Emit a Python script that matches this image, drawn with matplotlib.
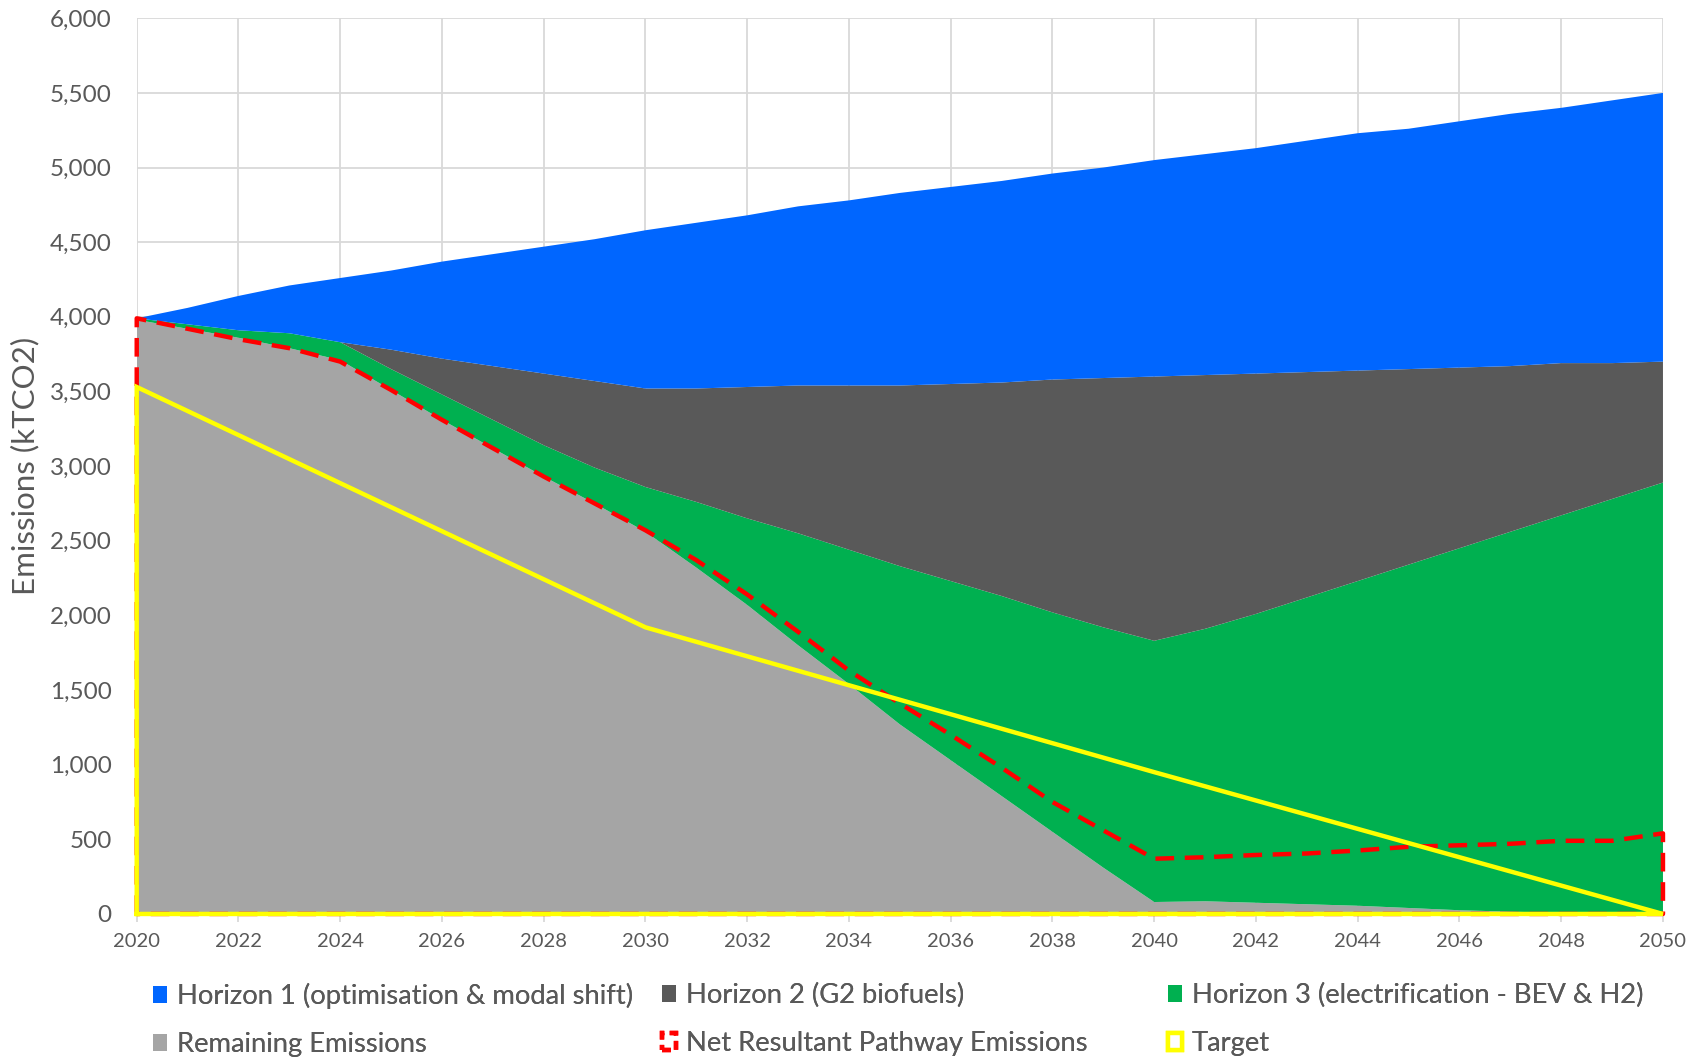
import matplotlib
matplotlib.use("Agg")
import matplotlib.pyplot as plt
from matplotlib.patches import Patch

plt.rcParams['font.family'] = ['Lato', 'DejaVu Sans']

years = list(range(2020, 2051))

# Stacked emission layers (kTCO2)
remaining = [3980, 3920, 3860, 3790, 3710, 3510, 3310, 3120, 2930, 2750, 2560,
             2320, 2070, 1800, 1540, 1270, 1030, 790, 550, 310, 80,
             85, 75, 65, 55, 40, 25, 15, 8, 4, 0]
horizon3 = [10, 30, 50, 100, 120, 140, 170, 190, 210, 240, 300,
            440, 580, 750, 900, 1060, 1200, 1340, 1470, 1610, 1750,
            1825, 1935, 2055, 2175, 2300, 2425, 2545, 2662, 2776, 2890]
horizon2 = [0, 0, 0, 0, 0, 130, 240, 360, 480, 580, 660,
            760, 880, 990, 1100, 1210, 1320, 1430, 1560, 1670, 1770,
            1700, 1610, 1510, 1410, 1310, 1210, 1110, 1020, 910, 810]
horizon1 = [0, 110, 230, 320, 430, 530, 650, 750, 850, 950, 1060,
            1110, 1150, 1200, 1240, 1290, 1320, 1350, 1380, 1410, 1450,
            1480, 1510, 1550, 1590, 1610, 1650, 1690, 1710, 1760, 1800]

# Outlined series
net_pathway = [3990, 3920, 3850, 3790, 3700, 3510, 3310, 3120, 2930, 2750, 2570,
               2370, 2140, 1890, 1630, 1410, 1200, 980, 750, 560, 370,
               380, 395, 405, 425, 450, 460, 470, 490, 490, 540]
target = [3530, 3369, 3208, 3047, 2886, 2725, 2564, 2403, 2242, 2081, 1920,
          1823, 1726, 1629, 1532, 1435, 1338, 1241, 1144, 1047, 950,
          855, 760, 665, 570, 475, 380, 285, 190, 95, 0]

labels = ["Horizon 1 (optimisation & modal shift)", "Horizon 2 (G2 biofuels)",
          "Horizon 3 (electrification - BEV & H2)", "Remaining Emissions",
          "Net Resultant Pathway Emissions", "Target"]

c_h1, c_h2, c_h3, c_rem = "#0066FF", "#595959", "#00B050", "#A5A5A5"
c_net, c_tgt = "#FF0000", "#FFFF00"
txt = "#595959"
grid = "#D9D9D9"

fig = plt.figure(figsize=(16.9, 10.62), dpi=100)
ax = fig.add_axes([0.0809, 0.1394, 0.984 - 0.0809, 0.9828 - 0.1394])

ax.stackplot(years, remaining, horizon3, horizon2, horizon1,
             colors=[c_rem, c_h3, c_h2, c_h1], linewidth=0, zorder=2)

# Net pathway and target drawn as outlined (unfilled) areas
xs = [years[0]] + years + [years[-1], years[0]]
ax.plot(xs, [0] + net_pathway + [0, 0], color=c_net, lw=3.2,
        linestyle=(0, (4.2, 2.4)), zorder=4, clip_on=False)
ax.plot(xs, [0] + target + [0, 0], color=c_tgt, lw=3.2,
        zorder=5, clip_on=False, solid_joinstyle='miter')

ax.set_xlim(2020, 2050)
ax.set_ylim(0, 6000)
ax.set_xticks(range(2020, 2051, 2))
ax.set_yticks(range(0, 6001, 500))
ax.yaxis.set_major_formatter(matplotlib.ticker.FuncFormatter(lambda v, p: f"{int(v):,}"))

ax.set_axisbelow(True)
ax.grid(True, color=grid, lw=1.3)
for s in ax.spines.values():
    s.set_visible(False)
ax.spines['bottom'].set_visible(True)
ax.spines['bottom'].set_color(grid)
ax.spines['bottom'].set_linewidth(1.3)

ax.tick_params(axis='x', direction='out', length=6, width=1.3, color=grid,
               labelcolor=txt, labelsize=14.5, pad=8)
ax.tick_params(axis='y', length=0, labelcolor=txt, labelsize=17.5, pad=18)

fig.text(25 / 1690, 1 - 466 / 1062, "Emissions (kTCO2)", rotation=90,
         ha='center', va='center', fontsize=22.5, color=txt)

handles = [Patch(facecolor=c_h1, edgecolor='none'),
           Patch(facecolor=c_h2, edgecolor='none'),
           Patch(facecolor=c_h3, edgecolor='none'),
           Patch(facecolor=c_rem, edgecolor='none'),
           Patch(facecolor='none', edgecolor=c_net, lw=3.2, linestyle=(0, (2, 1.2))),
           Patch(facecolor='white', edgecolor=c_tgt, lw=3.2)]

col_x = [153 / 1690, 662 / 1690, 1168 / 1690]
for i, x0 in enumerate(col_x):
    hs = [handles[i], handles[i + 3]]
    ls = [labels[i], labels[i + 3]]
    leg = fig.legend(hs, ls, loc='upper left', bbox_to_anchor=(x0, 0.0744),
                     frameon=False, fontsize=19.7, labelcolor=txt,
                     handlelength=0.52, handleheight=0.6, handletextpad=0.35,
                     labelspacing=0.84, borderaxespad=0, borderpad=0)
    fig.add_artist(leg)

fig.savefig("out.png", dpi=100)
